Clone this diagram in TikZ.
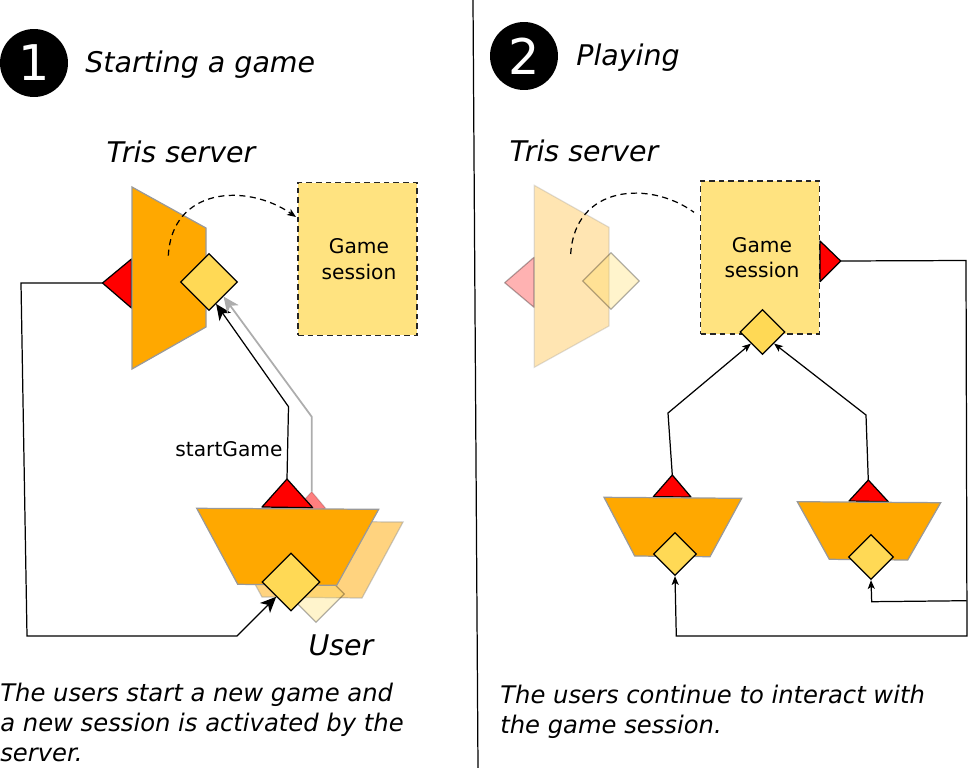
\documentclass[tikz,border=0pt]{standalone}
\usepackage{fontspec}
\setsansfont{DejaVu Sans}
\newfontfamily\handfont{DejaVu Sans}
\usetikzlibrary{shapes.geometric,arrows.meta}
\definecolor{blockcol}{HTML}{FFA800}
\definecolor{sessioncol}{HTML}{FFE380}
\definecolor{portcol}{HTML}{FFD955}
\definecolor{edgecol}{HTML}{999999}
\tikzset{
	wire/.style={black, line width=0.7pt},
	bigtip/.style={-{Stealth[length=9pt,width=8pt,inset=2.5pt]}},
	smalltip/.style={-{Stealth[length=5pt,width=4pt,inset=1.2pt]}},
	block/.style={fill=blockcol, draw=edgecol, line width=0.7pt},
	redport/.style={fill=red, draw=black, line width=0.7pt, line join=round},
	yport/.style={diamond, aspect=1, inner sep=0pt, fill=portcol, draw=black, line width=0.7pt},
	session/.style={fill=sessioncol, draw=black!85, line width=0.75pt, dash pattern=on 3.2pt off 2.3pt,
		minimum width=2.38cm, minimum height=3.06cm, align=center, inner sep=0pt},
	sessiontext/.style={align=center, inner sep=0pt, font=\sffamily\fontsize{11.5}{14.5}\selectfont},
	hand/.style={font=\handfont\itshape\fontsize{16.2}{16.2}\selectfont, inner sep=0pt},
	note/.style={font=\handfont\itshape\fontsize{13.8}{17}\selectfont, inner sep=0pt, align=left},
	bullet/.style={circle, fill=black, text=white, minimum size=1.36cm, inner sep=0pt,
		font=\sffamily\fontsize{28}{28}\selectfont},
	faded/.style={opacity=0.3}
}
\begin{document}
\begin{tikzpicture}[x=0.02cm,y=-0.02cm]
	\useasboundingbox (0,0) rectangle (968,768);
	\coordinate (topdiv) at (473,0);
	\coordinate (botdiv) at (478,768);
	\draw[wire] (topdiv) -- (botdiv);

	% left part
	\node[bullet] (one) at (34,63) {1};
	\node[hand, anchor=west] (titleone) at (85,65) {Starting a game};
	\node[hand] (serverone) at (181,152) {Tris server};

	\draw[redport] (131.5,259) -- (102.5,283) -- (131.5,308) -- cycle;
	\coordinate (srvtip) at (102.5,283);
	\draw[block] (132,187) -- (206,228) -- (206,327) -- (132,369) -- cycle;
	\node[yport, minimum size=1.14cm] (srvport) at (209,282) {};
	\node[session] (game) at (357.5,259) {};
	\node[sessiontext] (gamelabel) at (359,259) {Game\\session};
	\coordinate (srvfrom) at (168.3,255.7);
	\coordinate (gamein) at (296,217);
	\draw[black, line width=0.7pt, dash pattern=on 3.5pt off 2.5pt, smalltip]
		(srvfrom) .. controls (172,187) and (247,183) .. (gamein);

	% ghost of the other user
	\draw[block, opacity=0.5] (221,521) -- (403,522) -- (362,598) -- (262,597) -- cycle;
	\draw[redport, faded, draw opacity=0.15, fill opacity=0.5] (286,520) -- (311.7,491.7) -- (325.7,508.3) -- cycle;
	\coordinate (ghtip) at (311.7,491.7);
	\node[yport, minimum size=1.14cm, opacity=0.3] (ghport) at (316,594) {};

	\draw[redport] (262,507) -- (287,479) -- (312.7,507.7) -- cycle;
	\coordinate (usrtip) at (287,479);
	\draw[block] (196.7,508.3) -- (378.7,509.3) -- (336.7,585.3) -- (237.7,584.3) -- cycle;
	\node[yport, minimum size=1.16cm] (usrport) at (291,582) {};
	\node[hand] (userone) at (341,645) {User};

	\coordinate (bendone) at (288.5,406.7);
	\coordinate (bendtwo) at (311.7,416.7);
	\draw[wire, bigtip] (usrtip) -- (bendone) -- (srvport.-72);
	\draw[edgecol!80, line width=1pt, bigtip] (ghtip) -- (bendtwo) -- (srvport.south east);
	\node[font=\sffamily\fontsize{11.5}{14}\selectfont, inner sep=0pt] (start) at (229,449) {startGame};

	\coordinate (leftone) at (21,283);
	\coordinate (lefttwo) at (27,636);
	\coordinate (leftthree) at (237,636);
	\draw[wire, bigtip] (srvtip) -- (leftone) -- (lefttwo) -- (leftthree) -- (usrport.south west);

	\node[note, anchor=north west] (noteone) at (0,683) {The users start a new game and\\a new session is activated by the\\server.};

	% right part
	\node[bullet] (two) at (524,56) {2};
	\node[hand, anchor=west] (titletwo) at (576,58) {Playing};
	\node[hand] (servertwo) at (584,151) {Tris server};

	\draw[redport, faded] (534,257.3) -- (504.7,282.7) -- (534,307.3) -- cycle;
	\draw[block, faded] (534.3,185.3) -- (609,227.3) -- (609,326) -- (534.3,367.3) -- cycle;
	\node[yport, minimum size=1.14cm, faded] (oldport) at (611,281) {};
	\node[session] (gametwo) at (760,257.5) {};
	\node[sessiontext] (gametwolabel) at (762,257.5) {Game\\session};
	\coordinate (oldfrom) at (570.7,254);
	\coordinate (oldto) at (694,212.3);
	\draw[black, line width=0.7pt, dash pattern=on 3.5pt off 2.5pt]
		(oldfrom) .. controls (574.7,185) and (649.7,180) .. (oldto);
	\node[yport, minimum size=0.9cm] (gameport) at (762.5,332) {};
	\draw[redport] (820,241) -- (840.7,261) -- (820,281.7) -- cycle;
	\coordinate (gametip) at (840.7,261);

	\draw[redport] (653.3,496.7) -- (672.3,475) -- (691,497) -- cycle;
	\coordinate (ltip) at (672.3,475);
	\draw[block] (604,497.3) -- (741.7,498.3) -- (710,556.7) -- (634.7,556) -- cycle;
	\node[yport, minimum size=0.86cm] (lport) at (675,554) {};

	\draw[redport] (849,501) -- (868.3,480) -- (888.3,501.7) -- cycle;
	\coordinate (rtip) at (868.3,480);
	\draw[block] (797.3,501.7) -- (940.7,502.7) -- (907.7,560) -- (829.3,559.3) -- cycle;
	\node[yport, minimum size=0.9cm] (rport) at (871,557) {};

	\coordinate (lbend) at (668,413);
	\coordinate (rbend) at (866,415);
	\draw[wire, smalltip] (ltip) -- (lbend) -- (gameport.south west);
	\draw[wire, smalltip] (rtip) -- (rbend) -- (gameport.south east);

	\coordinate (corner) at (966,260.5);
	\coordinate (midfork) at (966.5,600.7);
	\coordinate (lowfork) at (967,636);
	\coordinate (lowleft) at (676.3,636);
	\coordinate (lowright) at (871.7,601.7);
	\draw[wire, smalltip] (gametip) -- (corner) -- (lowfork) -- (lowleft) -- (lport.south);
	\draw[wire, smalltip] (midfork) -- (lowright) -- (rport.south);

	\node[note, anchor=north west] (notetwo) at (500,685) {The users continue to interact with\\the game session.};
\end{tikzpicture}
\end{document}
